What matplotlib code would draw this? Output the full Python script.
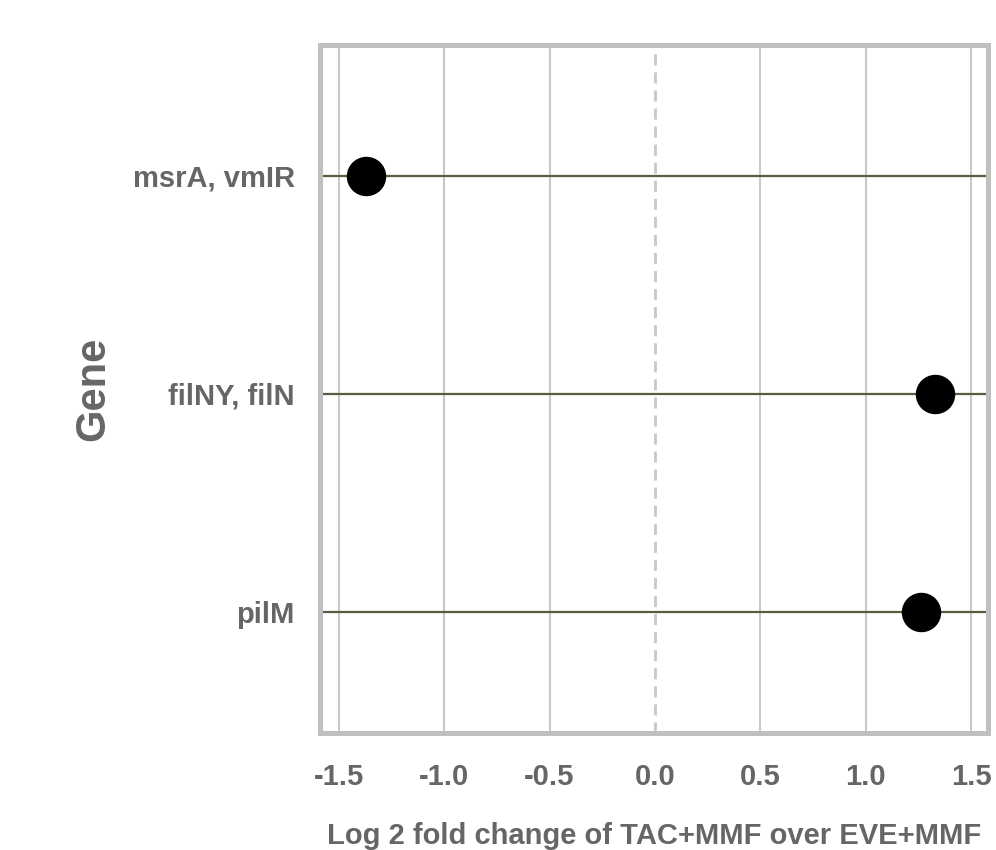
import matplotlib.pyplot as plt

# Data
genes = ["msrA, vmIR", "filNY, filN", "pilM"]
log2fc = [-1.37, 1.33, 1.26]
xticks = [-1.5, -1.0, -0.5, 0.0, 0.5, 1.0, 1.5]

plt.rcParams['font.family'] = ['Liberation Sans', 'DejaVu Sans']
text_col = "#666666"

fig = plt.figure(figsize=(9.96, 8.5), dpi=100)
ax = fig.add_axes([0.321, 0.138, 0.671, 0.809])

ypos = list(range(len(genes)))

# stems across the whole panel
for y in ypos:
    ax.axhline(y, color="#5b5b40", lw=1.6, zorder=2)

ax.scatter(log2fc, ypos, s=750, color="black", zorder=3)

# zero reference
ax.axvline(0, color="#c8c8c8", lw=2, ls=(0, (4, 2.5)), zorder=1)

ax.set_xlim(-1.59, 1.58)
ax.set_ylim(2.555, -0.6)
ax.set_xticks(xticks)
ax.set_xticklabels([f"{t:.1f}" for t in xticks])
ax.set_yticks(ypos)
ax.set_yticklabels(genes)

for t in xticks:
    if t != 0:
        ax.axvline(t, color="#c8c8c8", lw=1.5, zorder=1)

ax.tick_params(axis="x", length=0, pad=22, labelsize=21, labelcolor=text_col)
ax.tick_params(axis="y", length=0, pad=18, labelsize=21, labelcolor=text_col)
for lab in ax.get_xticklabels() + ax.get_yticklabels():
    lab.set_fontweight("bold")

for s in ax.spines.values():
    s.set_color("#c0c0c0")
    s.set_linewidth(3.6)

ax.set_xlabel("Log 2 fold change of TAC+MMF over EVE+MMF", fontsize=21,
              fontweight="bold", color=text_col, labelpad=22)
ax.set_ylabel("Gene", fontsize=30, fontweight="bold", color=text_col, labelpad=14)

plt.savefig("out.png", dpi=100)
plt.close()
